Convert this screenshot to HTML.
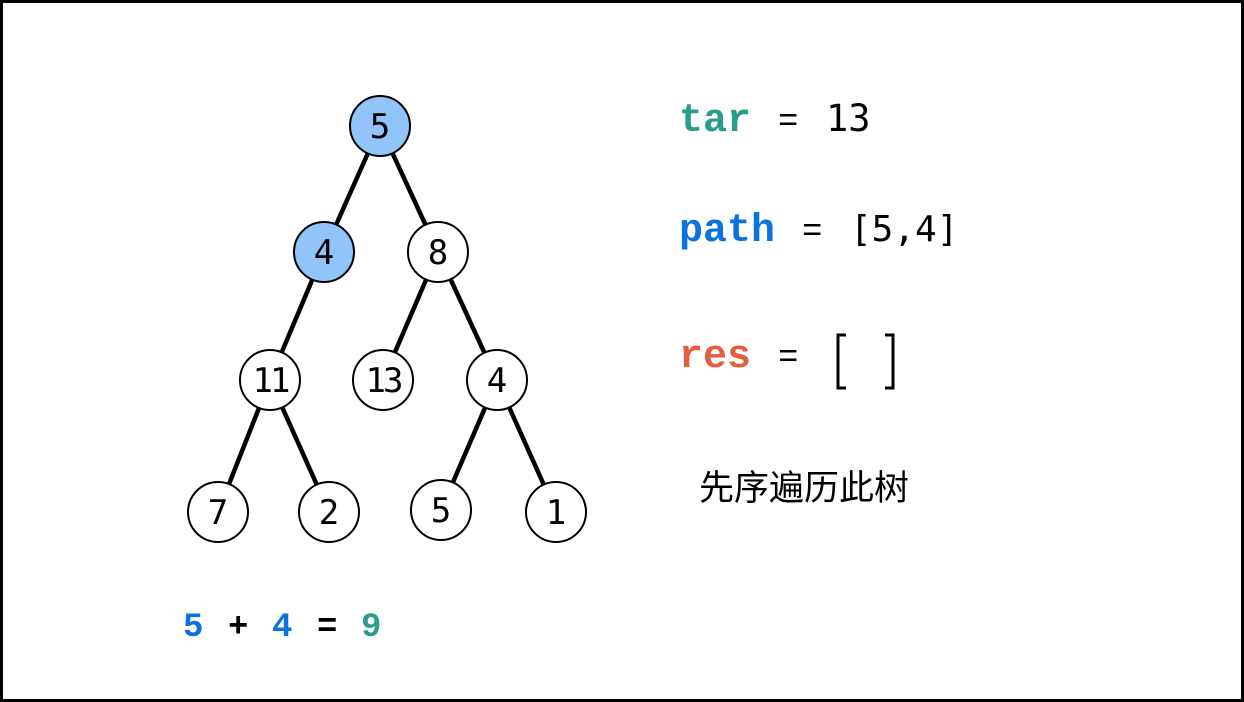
<!DOCTYPE html>
<html><head><meta charset="utf-8"><style>
body{margin:0;background:#fff}
svg{display:block}
.m{font-family:"Liberation Mono","DejaVu Sans Mono",monospace}
</style></head><body>
<svg width="1244" height="702" xmlns="http://www.w3.org/2000/svg">
<rect x="1.5" y="1.5" width="1241" height="699" fill="#fff" stroke="#000" stroke-width="3"/>
<g stroke="#000" stroke-width="4.5">
<line x1="380" y1="126" x2="324" y2="252"/><line x1="380" y1="126" x2="438" y2="252"/>
<line x1="324" y1="252" x2="270" y2="380"/>
<line x1="438" y1="252" x2="383" y2="380"/><line x1="438" y1="252" x2="497" y2="380"/>
<line x1="270" y1="380" x2="218" y2="512"/><line x1="270" y1="380" x2="329" y2="512"/>
<line x1="497" y1="380" x2="441" y2="510"/><line x1="497" y1="380" x2="556" y2="512"/>
</g>
<g stroke="#000" stroke-width="2">
<circle cx="380" cy="126" r="30" fill="#90c4fb"/>
<circle cx="324" cy="252" r="30" fill="#90c4fb"/>
<circle cx="438" cy="252" r="30" fill="#fff"/>
<circle cx="270" cy="380" r="30" fill="#fff"/>
<circle cx="383" cy="380" r="30" fill="#fff"/>
<circle cx="497" cy="380" r="30" fill="#fff"/>
<circle cx="218" cy="512" r="30" fill="#fff"/>
<circle cx="329" cy="512" r="30" fill="#fff"/>
<circle cx="441" cy="510" r="30" fill="#fff"/>
<circle cx="556" cy="512" r="30" fill="#fff"/>
</g>
<g font-family="DejaVu Sans Mono, monospace" font-size="34" text-anchor="middle" fill="#000">
<text x="380" y="138">5</text><text x="324" y="264">4</text><text x="438" y="264">8</text>
<text x="270" y="392" letter-spacing="-3">11</text><text x="383" y="392" letter-spacing="-3">13</text><text x="497" y="392">4</text>
<text x="218" y="524">7</text><text x="329" y="524">2</text><text x="441" y="522">5</text><text x="556" y="524">1</text>
</g>
<g class="m" font-size="40">
<text x="679" y="131" fill="#289d8a" font-weight="bold">tar</text>
<text x="778" y="131" font-size="34">=</text><text x="826" y="131" font-family="DejaVu Sans Mono, monospace" font-size="37">13</text>
<text x="679" y="241" fill="#0b72e0" font-weight="bold">path</text>
<text x="802" y="241" font-size="34">=</text><text x="850" y="241" font-family="DejaVu Sans Mono, monospace" font-size="36">[5,4]</text>
<text x="679" y="367" fill="#e35f3f" font-weight="bold">res</text>
<text x="778" y="367" font-size="34">=</text>
</g>
<g stroke="#000" stroke-width="3" fill="none">
<polyline points="846,335 838,335 838,388 846,388"/>
<polyline points="885,335 893,335 893,388 885,388"/>
</g>
<text x="699" y="500" font-family="Liberation Sans, Noto Sans CJK SC, sans-serif" font-size="35">先序遍历此树</text>
<g class="m" font-size="34" font-weight="bold">
<text x="183" y="636" fill="#0b72e0">5</text>
<text x="228" y="636">+</text>
<text x="272" y="636" fill="#0b72e0">4</text>
<text x="317" y="636">=</text>
<text x="361" y="636" fill="#289d8a">9</text>
</g>
</svg>
</body></html>
